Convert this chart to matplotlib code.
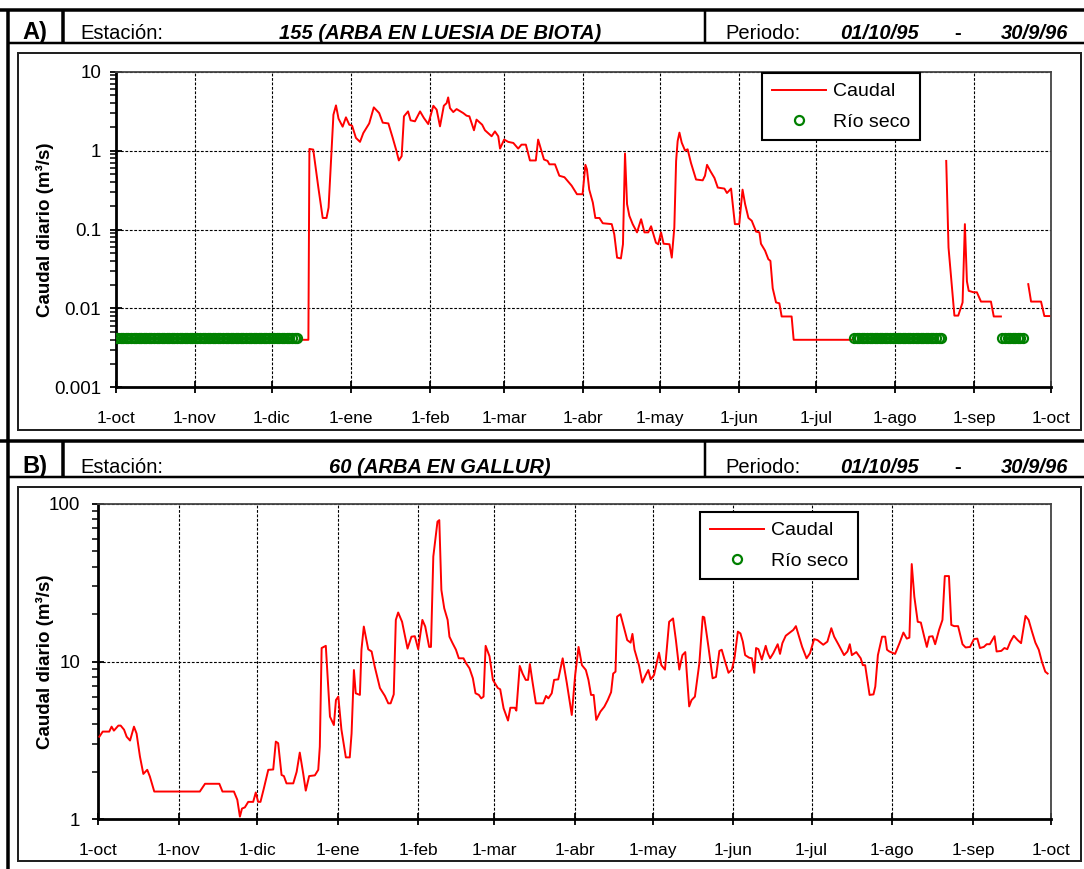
import numpy as np
import matplotlib.pyplot as plt
from matplotlib.lines import Line2D
from matplotlib.patches import Rectangle
from matplotlib.ticker import LogLocator, NullFormatter

plt.rcParams['font.family'] = ['Liberation Sans', 'DejaVu Sans']

W, H = 1084, 869  # tamaño en pixeles

# eje x: dias contados desde el 1-oct-1995
mes_dias = [0, 31, 61, 92, 123, 152, 183, 213, 244, 274, 305, 336, 366]
mes_etiq = ['1-oct', '1-nov', '1-dic', '1-ene', '1-feb', '1-mar', '1-abr',
            '1-may', '1-jun', '1-jul', '1-ago', '1-sep', '1-oct']

# A) estacion 155 - caudal diario (m3/s), nan = hueco en la serie
a_dia = [72, 75.4, 75.8, 77.3, 79.3, 81, 82.5, 83.3, 85.2, 86.2, 87.2, 88.8, 90.1, 91.4,
         92.5, 94, 95.6, 96.9, 99.2, 101, 103.1, 104.5, 106.7, 108.4, 109.9, 110.8, 111.9,
         112.8, 114.4, 115.4, 117.1, 119.1, 120.6, 122.3, 124.3, 125.6, 126.9, 128.4, 129.5,
         130.1, 130.8, 132.1, 133.4, 136, 137.3, 138.4, 140.2, 141.2, 143.4, 144.5, 147.1,
         148.4, 149.7, 150.4, 152, 153.6, 155.6, 157.5, 158.8, 160.5, 162.1, 164.4, 165.3,
         167.6, 169, 169.7, 171.9, 173.6, 175.6, 176.9, 178.4, 180.5, 182.7, 183.8, 184.4,
         185.3, 186.7, 187.7, 189.3, 190.6, 194.1, 195.1, 196.2, 197.7, 198.5, 199.3, 200.1,
         201, 202.3, 204, 205.6, 206.9, 208.4, 209.5, 211.4, 212.3, 213.4, 214.4, 216.7,
         217.6, 218.6, 219.3, 219.9, 220.6, 221.5, 222.8, 223.8, 225.1, 227.1, 229.7, 230.6,
         231.4, 232.7, 234.3, 235.6, 238.2, 239.2, 240.8, 242.3, 244, 245.3, 246.3, 247.6,
         248.9, 250.6, 251.9, 252.5, 254.1, 255.4, 256.2, 257.1, 258.4, 259.7, 260.6, 264.5,
         265.3, 288, 300,
         325, 325.9, 328.2, 329.7, 331.4, 332.3, 333.1, 333.8, 335.7, 337, 338.6, 342.5,
         343.6, 346.4, 350,
         357.1, 358.2, 362.1, 363.4, 365.3]
a_caudal = [0.004, 0.004, 1.05, 1.03, 0.34, 0.14, 0.14, 0.19, 2.85, 3.74, 2.54, 2.01, 2.64, 2.13,
            2.07, 1.45, 1.29, 1.67, 2.21, 3.53, 2.99, 2.26, 2.21, 1.45, 0.98, 0.75, 0.85,
            2.72, 3.14, 2.42, 2.35, 3.14, 2.59, 2.17, 3.7, 3.3, 2.03, 3.7, 4.0,
            4.72, 3.46, 3.08, 3.36, 2.99, 2.77, 2.72, 1.81, 2.47, 2.13, 1.81, 1.52,
            1.75, 1.52, 1.06, 1.38, 1.29, 1.25, 1.06, 1.19, 1.19, 0.75, 0.75, 1.38,
            0.77, 0.74, 0.67, 0.67, 0.48, 0.46, 0.41, 0.36, 0.28, 0.28, 0.66, 0.58,
            0.32, 0.22, 0.14, 0.14, 0.12, 0.117, 0.087, 0.044, 0.043, 0.065, 0.92, 0.21,
            0.149, 0.117, 0.092, 0.135, 0.092, 0.092, 0.11, 0.068, 0.065, 0.092, 0.066, 0.065,
            0.044, 0.106, 0.74, 1.32, 1.69, 1.26, 1.0, 1.04, 0.7, 0.43, 0.42, 0.48,
            0.66, 0.55, 0.45, 0.34, 0.33, 0.29, 0.33, 0.117, 0.117, 0.32, 0.21, 0.14,
            0.129, 0.094, 0.092, 0.066, 0.054, 0.042, 0.04, 0.018, 0.0119, 0.0116, 0.0079, 0.0079,
            0.004, 0.004, np.nan,
            0.74, 0.059, 0.0081, 0.0081, 0.0119, 0.117, 0.022, 0.0167, 0.016, 0.016, 0.0122, 0.0122,
            0.0079, 0.0079, np.nan,
            0.0203, 0.0122, 0.0122, 0.008, 0.008]
# dias con rio seco
a_seco_dia = list(range(0, 72)) + list(range(289, 324)) + list(range(347, 356))
a_seco_val = 0.0042

# B) estacion 60 - caudal diario (m3/s)
b_dia = [0.4, 1.7, 4.2, 5.1, 6.0, 7.7, 8.6, 9.9, 10.9, 12.2, 13.7, 14.7, 16.0, 17.3, 18.8,
         19.8, 21.5, 39.0, 41.0, 46.5, 47.7, 52.1, 53.4, 54.4, 55.2, 56.3, 57.6, 59.5, 60.5,
         61.4, 62.3, 63.6, 65.3, 67.2, 68.2, 69.1, 70.4, 71.3, 72.3, 74.9, 76.2, 77.4, 78.7,
         79.7, 81.0, 83.2, 84.5, 85.1, 85.8, 87.4, 89.0, 90.5, 91.3, 92.2, 93.4, 95.1, 96.6,
         97.3, 98.2, 98.9, 100.5, 101.1, 102.0, 103.7, 105.0, 106.2, 108.2, 110.1, 111.4,
         112.3, 113.5, 114.3, 115.2, 116.7, 118.8, 120.3, 121.6, 122.9, 124.5, 125.6, 127.1,
         127.8, 128.7, 130.3, 131.0, 131.8, 132.9, 134.2, 134.9, 136.1, 137.4, 138.5, 140.3,
         141.3, 142.6, 143.9, 144.9, 146.2, 147.1, 148.0, 148.8, 150.3, 151.6, 153.5, 154.4,
         155.7, 157.4, 158.3, 160.0, 160.6, 161.9, 163.0, 164.2, 165.1, 165.8, 166.8, 168.1,
         170.9, 172.0, 172.9, 174.2, 175.1, 176.7, 178.4, 180.0, 181.9, 183.2, 184.5, 185.8,
         187.3, 188.3, 189.3, 190.3, 191.3, 192.9, 194.4, 195.7, 197.0, 197.8, 198.7, 199.3,
         200.6, 201.9, 203.2, 204.5, 205.2, 206.0, 207.7, 209.0, 210.3, 211.3, 212.2, 213.5,
         215.4, 216.3, 217.7, 219.3, 220.8, 221.9, 223.2, 224.4, 225.5, 227.0, 227.9, 229.2,
         230.9, 232.2, 232.8, 234.4, 236.0, 237.3, 238.6, 239.5, 240.8, 242.1, 243.4, 244.4,
         245.7, 246.7, 247.6, 248.5, 250.0, 251.1, 252.0, 252.7, 253.6, 254.9, 256.4, 257.2,
         258.1, 259.3, 261.0, 261.9, 262.8, 264.1, 265.7, 267.0, 268.0, 269.2, 270.4, 272.1,
         273.4, 275.0, 276.3, 278.5, 280.1, 281.6, 282.7, 284.4, 286.5, 287.8, 288.7, 289.5,
         291.2, 292.9, 293.7, 294.6, 296.3, 297.8, 298.5, 299.5, 301.1, 302.3, 303.0, 303.9,
         306.1, 307.8, 309.3, 310.6, 311.6, 312.5, 313.5, 314.8, 316.0, 317.3, 318.3, 319.2,
         320.5, 321.5, 323.0, 324.3, 325.2, 326.8, 327.7, 328.8, 330.3, 332.0, 333.2, 334.9,
         336.4, 337.7, 338.7, 340.2, 341.3, 342.5, 344.3, 345.1, 346.9, 348.1, 349.2, 350.4,
         351.7, 353.2, 354.5, 356.2, 357.4, 358.7, 360.0, 361.3, 362.5, 363.8, 364.7]
b_caudal = [3.34, 3.6, 3.6, 3.87, 3.65, 3.93, 3.93, 3.7, 3.34, 3.16, 3.87, 3.5, 2.5, 1.94, 2.06,
            1.87, 1.5, 1.5, 1.68, 1.68, 1.5, 1.5, 1.33, 1.04, 1.17, 1.19, 1.29, 1.29, 1.48,
            1.29, 1.29, 1.57, 2.06, 2.07, 3.11, 3.04, 1.91, 1.88, 1.69, 1.69, 2.0, 2.65, 1.96,
            1.52, 1.88, 1.9, 2.06, 2.89, 12.2, 12.6, 4.48, 3.96, 5.71, 6.0, 3.71, 2.47, 2.47,
            3.5, 8.85, 6.3, 6.15, 11.9, 16.7, 11.97, 11.6, 9.3, 6.8, 6.06, 5.44,
            5.44, 6.2, 18.4, 20.5, 17.9, 12.1, 14.4, 14.5, 12.0, 18.4, 16.7, 12.4,
            12.4, 46.4, 77.3, 79.0, 28.5, 21.8, 18.4, 14.4, 13.1, 11.9, 10.5, 10.5,
            9.76, 9.07, 7.84, 6.3, 6.15, 5.85, 6.0, 12.6, 10.8, 7.66, 6.8, 6.68,
            5.06, 4.23, 5.1, 5.1, 4.89, 9.4, 8.4, 7.66, 7.66, 9.66, 7.46, 5.44,
            5.44, 6.06, 5.85, 6.3, 7.66, 7.72, 10.5, 7.3, 4.59, 8.23, 12.4, 9.5,
            8.85, 7.66, 6.15, 6.15, 4.27, 4.82, 5.18, 5.7, 6.4, 8.4, 8.64, 19.3,
            20.0, 16.5, 13.7, 13.2, 15.0, 11.9, 9.5, 7.36, 8.23, 8.85, 7.72, 8.23,
            11.4, 9.5, 8.9, 17.9, 18.8, 13.7, 8.9, 11.0, 11.5, 5.2, 5.7, 6.0,
            9.76, 19.3, 19.1, 12.4, 7.84, 8.0, 11.7, 11.9, 10.0, 8.5, 8.9, 10.5,
            15.5, 15.1, 13.4, 11.0, 10.6, 10.5, 8.5, 12.2, 12.0, 10.3, 12.6, 11.3,
            10.5, 11.3, 12.9, 11.2, 13.1, 14.6, 15.3, 15.9, 16.8, 14.4, 12.4, 10.5,
            11.3, 13.9, 13.7, 12.8, 13.4, 16.3, 14.4, 12.8, 11.0, 11.6, 12.9, 11.0,
            11.5, 10.5, 9.5, 9.5, 6.15, 6.2, 6.95, 11.0, 14.4, 14.4, 11.9, 11.6,
            11.2, 13.1, 15.3, 14.0, 14.2, 41.6, 25.8, 17.9, 17.7, 14.4, 12.4, 14.4,
            14.5, 12.9, 15.9, 18.4, 34.9, 34.9, 17.1, 16.8, 16.8, 12.9, 12.3, 12.4,
            13.9, 14.0, 12.2, 12.4, 12.9, 12.9, 14.5, 11.6, 11.7, 12.2, 12.0, 13.4,
            14.6, 13.7, 13.1, 19.5, 18.4, 15.5, 13.2, 11.9, 10.0, 8.64, 8.4]
b_seco_dia = []

fig = plt.figure(figsize=(W / 100, H / 100), dpi=100)


def fx(px):
    return px / W


def fy(py):
    return 1 - py / H


def linea(x0, y0, x1, y1, lw, color='k'):
    # lw en pixeles
    fig.add_artist(Line2D([fx(x0), fx(x1)], [fy(y0), fy(y1)], color=color,
                          lw=lw * 0.72, transform=fig.transFigure, solid_capstyle='butt'))


def cabecera(y0, y1, letra, estacion):
    linea(0, y0, W, y0, 3.5)
    linea(8, y1, W, y1, 2.5)
    linea(63, y0, 63, y1, 3.5)
    linea(705, y0, 705, y1, 2.5)
    yb = fy(y1 - 4)
    fig.text(fx(35), yb, letra, fontsize=17, fontweight='bold', ha='center', va='baseline')
    fig.text(fx(80), yb, 'Estación:', fontsize=14.5, ha='left', va='baseline')
    fig.text(fx(440), yb, estacion, fontsize=14.5, fontweight='bold', style='italic',
             ha='center', va='baseline')
    fig.text(fx(725), yb, 'Periodo:', fontsize=14.5, ha='left', va='baseline')
    fig.text(fx(880), yb, '01/10/95', fontsize=14.5, fontweight='bold', style='italic',
             ha='center', va='baseline')
    fig.text(fx(958), yb, '-', fontsize=14.5, fontweight='bold', ha='center', va='baseline')
    fig.text(fx(1068), yb, '30/9/96', fontsize=14.5, fontweight='bold', style='italic',
             ha='right', va='baseline')


def caja(x0, y0, x1, y1):
    fig.add_artist(Rectangle((fx(x0), fy(y1)), fx(x1) - fx(x0), fy(y0) - fy(y1),
                             fill=False, ec='#222222', lw=2 * 0.72, transform=fig.transFigure))


def panel(rect, dias, caudal, seco_dias, seco_val, ylim, yt, ytl, ylab_x, leg_xy, ypad):
    x0, y0, x1, y1 = rect
    ax = fig.add_axes([fx(x0), fy(y1), fx(x1) - fx(x0), fy(y0) - fy(y1)])
    ax.set_yscale('log')
    ax.plot(dias, caudal, color='#ff0000', lw=1.4, label='Caudal', zorder=3)
    ax.plot(seco_dias, [seco_val] * len(seco_dias), ls='none', marker='o', ms=6.5,
            mfc='none', mec='#008000', mew=1.6, label='Río seco', zorder=4)
    ax.set_xlim(0, 366)
    ax.set_ylim(*ylim)
    ax.set_xticks(mes_dias)
    ax.set_xticklabels(mes_etiq, fontsize=12.5)
    ax.set_yticks(yt)
    ax.set_yticklabels(ytl, fontsize=13.5)
    ax.yaxis.set_minor_locator(LogLocator(base=10, subs=np.arange(2, 10)))
    ax.yaxis.set_minor_formatter(NullFormatter())
    ax.tick_params(axis='x', which='major', direction='inout', length=8, width=1.3, pad=13)
    ax.tick_params(axis='y', which='major', direction='inout', length=8, width=1.3, pad=ypad)
    ax.tick_params(axis='y', which='minor', direction='out', length=4, width=1.1)
    ax.grid(True, which='major', color='k', ls=(0, (2.5, 1.5)), lw=0.8)
    for s in ['left', 'bottom']:
        ax.spines[s].set_linewidth(2)
        ax.spines[s].set_color('k')
    for s in ['top', 'right']:
        ax.spines[s].set_linewidth(1.3)
        ax.spines[s].set_color('#444444')
    ax.set_ylabel('Caudal diario (m³/s)', fontsize=13.5, fontweight='bold')
    ax.yaxis.set_label_coords((ylab_x - x0) / (x1 - x0), 0.5)
    leg = ax.legend(loc='upper left', bbox_to_anchor=(fx(leg_xy[0]), fy(leg_xy[1])),
                    bbox_transform=fig.transFigure, borderaxespad=0, fontsize=14,
                    frameon=True, fancybox=False, framealpha=1, edgecolor='k',
                    handlelength=2.8, handletextpad=0.35, borderpad=0.5,
                    labelspacing=0.65, numpoints=1)
    leg.get_frame().set_linewidth(1.5)
    return ax


# marco general
linea(8, 10, 8, H, 3.5)

# A)
cabecera(10, 43, 'A)', '155 (ARBA EN LUESIA DE BIOTA)')
caja(18, 53, 1081, 430)
panel((115.7, 71.7, 1051, 387.3), a_dia, a_caudal, a_seco_dia, a_seco_val,
      (0.001, 10), [0.001, 0.01, 0.1, 1, 10], ['0.001', '0.01', '0.1', '1', '10'],
      54, (762, 73), 6.5)

# B)
cabecera(441, 477, 'B)', '60 (ARBA EN GALLUR)')
caja(18, 487, 1081, 861)
panel((98.3, 504, 1051, 819.3), b_dia, b_caudal, b_seco_dia, 1.0,
      (1, 100), [1, 10, 100], ['1', '10', '100'],
      54, (700, 512), 9)

fig.savefig('out.png', dpi=100)
